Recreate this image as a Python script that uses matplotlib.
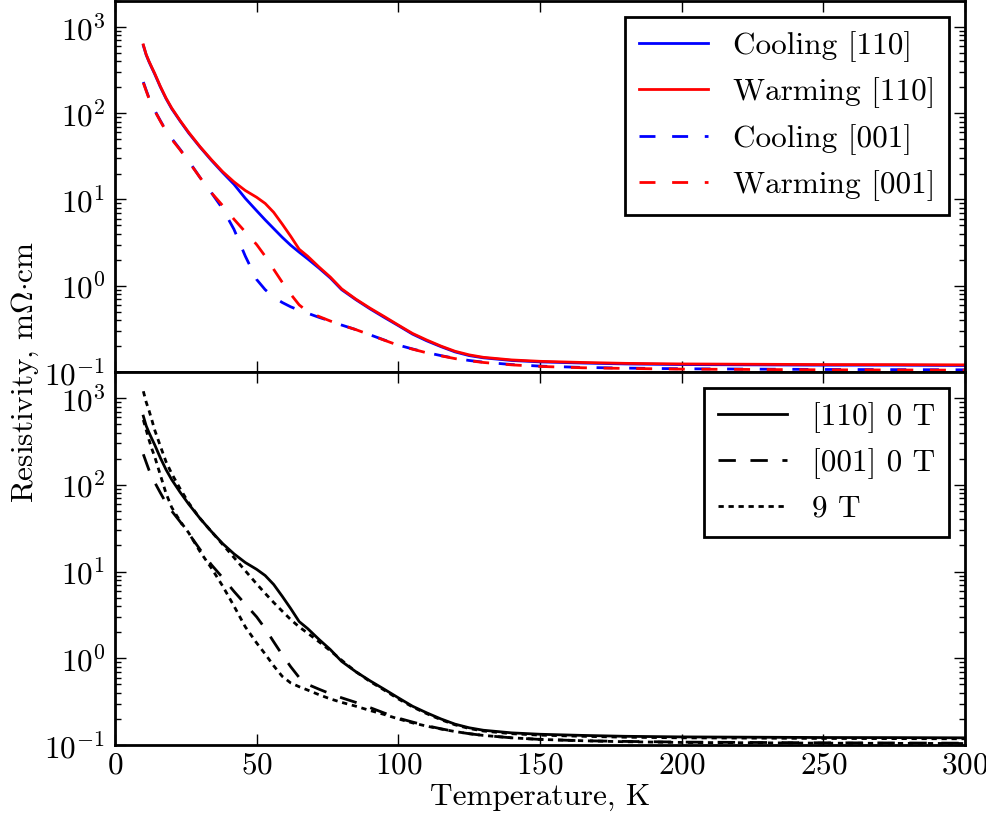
import matplotlib
matplotlib.use('Agg')
import matplotlib.pyplot as plt

plt.rcParams.update({
    'font.family': 'serif',
    'font.serif': ['cmr10'],
    'mathtext.fontset': 'cm',
    'axes.formatter.use_mathtext': True,
    'font.size': 22.5,
    'lines.scale_dashes': False,
})

# temperatures, K
T = [10, 11, 12, 13, 14, 16, 18, 20, 23, 26, 30, 34, 38, 42, 46, 50, 53, 56, 59, 62, 65, 68, 72, 76,
     80, 85, 90, 95, 100, 105, 110, 115, 120, 125, 130, 140, 150, 165, 180, 200, 225, 250, 275, 300]

# resistivity, mOhm cm
warm_110 = [620, 480, 400, 340, 290, 205, 150, 115, 82, 60, 41, 29, 21, 16, 12.7, 10.6, 9.0, 7.1, 5.2, 3.75,
            2.65, 2.2, 1.65, 1.26, 0.92, 0.7, 0.55, 0.44, 0.35, 0.28, 0.235, 0.2, 0.174, 0.158, 0.148,
            0.138, 0.133, 0.129, 0.126, 0.124, 0.123, 0.122, 0.1217, 0.121]
cool_110 = [610, 475, 395, 335, 285, 202, 148, 113, 81, 59, 40.5, 28.5, 20.5, 15, 10.3, 7.4, 5.8, 4.6, 3.65, 2.95,
            2.45, 2.05, 1.6, 1.23, 0.9, 0.69, 0.54, 0.43, 0.345, 0.275, 0.23, 0.197, 0.171, 0.155, 0.146,
            0.136, 0.131, 0.127, 0.124, 0.122, 0.121, 0.12, 0.12, 0.119]
cool_001 = [230, 185, 150, 125, 108, 82, 63, 51, 38, 28, 18, 12, 7.8, 4.5, 2.2, 1.18, 0.9, 0.74, 0.64, 0.57,
            0.52, 0.48, 0.43, 0.39, 0.35, 0.31, 0.27, 0.235, 0.205, 0.185, 0.168, 0.155, 0.144, 0.136, 0.13,
            0.122, 0.117, 0.113, 0.111, 0.109, 0.108, 0.107, 0.1065, 0.106]
warm_001 = [225, 182, 148, 124, 107, 81, 62, 50, 37.5, 27.5, 18, 12, 8.5, 5.9, 4.2, 3.0, 2.2, 1.55, 1.1, 0.8,
            0.6, 0.5, 0.44, 0.39, 0.35, 0.31, 0.27, 0.234, 0.204, 0.184, 0.167, 0.154, 0.143, 0.135, 0.129,
            0.121, 0.116, 0.112, 0.11, 0.108, 0.107, 0.106, 0.1055, 0.105]
field_110 = [1200, 900, 720, 560, 430, 280, 185, 135, 90, 62, 41, 29, 20.5, 14.5, 10.2, 7.2, 5.6, 4.4, 3.5, 2.8,
             2.3, 1.95, 1.55, 1.22, 0.95, 0.7, 0.54, 0.43, 0.34, 0.275, 0.23, 0.196, 0.171, 0.155, 0.145,
             0.135, 0.13, 0.126, 0.123, 0.121, 0.12, 0.119, 0.1185, 0.118]
field_001 = [560, 430, 330, 260, 212, 130, 80, 55, 38, 28, 17, 11, 6.8, 4.0, 2.3, 1.5, 1.12, 0.82, 0.62, 0.52,
             0.47, 0.43, 0.38, 0.34, 0.31, 0.28, 0.25, 0.225, 0.2, 0.18, 0.165, 0.153, 0.143, 0.135, 0.129,
             0.121, 0.116, 0.112, 0.109, 0.107, 0.106, 0.105, 0.1045, 0.104]

xticks = [0, 50, 100, 150, 200, 250, 300]

fig = plt.figure(figsize=(9.87, 8.34), dpi=100)
left, width = 115 / 987, 850 / 987
bot0 = (834 - 745) / 834
h = 373 / 834
ax1 = fig.add_axes([left, bot0 + h, width, 1 - 1 / 834 - bot0 - h])
ax2 = fig.add_axes([left, bot0, width, h])

lw = 2
long_dash = (11.5, 12)
ax1.plot(T, cool_110, color='b', lw=lw, label='Cooling [110]')
ax1.plot(T, warm_110, color='r', lw=lw, label='Warming [110]')
ax1.plot(T, cool_001, color='b', lw=lw, dashes=long_dash, label='Cooling [001]')
ax1.plot(T, warm_001, color='r', lw=lw, dashes=long_dash, label='Warming [001]')

ax2.plot(T, warm_110, color='k', lw=lw, label='[110] 0 T')
ax2.plot(T, warm_001, color='k', lw=lw, dashes=(12.5, 10.5), label='[001] 0 T')
ax2.plot(T, field_110, color='k', lw=lw, dashes=(3.8, 3.4), label='9 T')
ax2.plot(T, field_001, color='k', lw=lw, dashes=(3.8, 3.4))

for ax in (ax1, ax2):
    ax.set_yscale('log')
    ax.set_ylim(0.1, 2000)
    ax.set_xlim(0, 300)
    ax.set_xticks(xticks)
    ax.tick_params(which='both', direction='in', top=True, right=True, width=1)
    ax.tick_params(which='major', length=8, pad=7)
    ax.tick_params(which='minor', length=4)
    for s in ax.spines.values():
        s.set_linewidth(2)
    leg = ax.legend(loc='upper right', fancybox=False, framealpha=1, edgecolor='k',
                    handlelength=2.2, handletextpad=0.8, borderaxespad=0.5,
                    labelspacing=0.5, borderpad=0.45)
    leg.get_frame().set_linewidth(2)

ax1.tick_params(labelbottom=False)
ax2.tick_params(axis='x', which='major', pad=5)
ax2.set_xlabel('Temperature, K', labelpad=2)
fig.text(25 / 987, 1 - 372 / 834, r'Resistivity, m$\Omega{\cdot}$cm', rotation=90,
         ha='center', va='center')

fig.savefig('out.png', dpi=100)
